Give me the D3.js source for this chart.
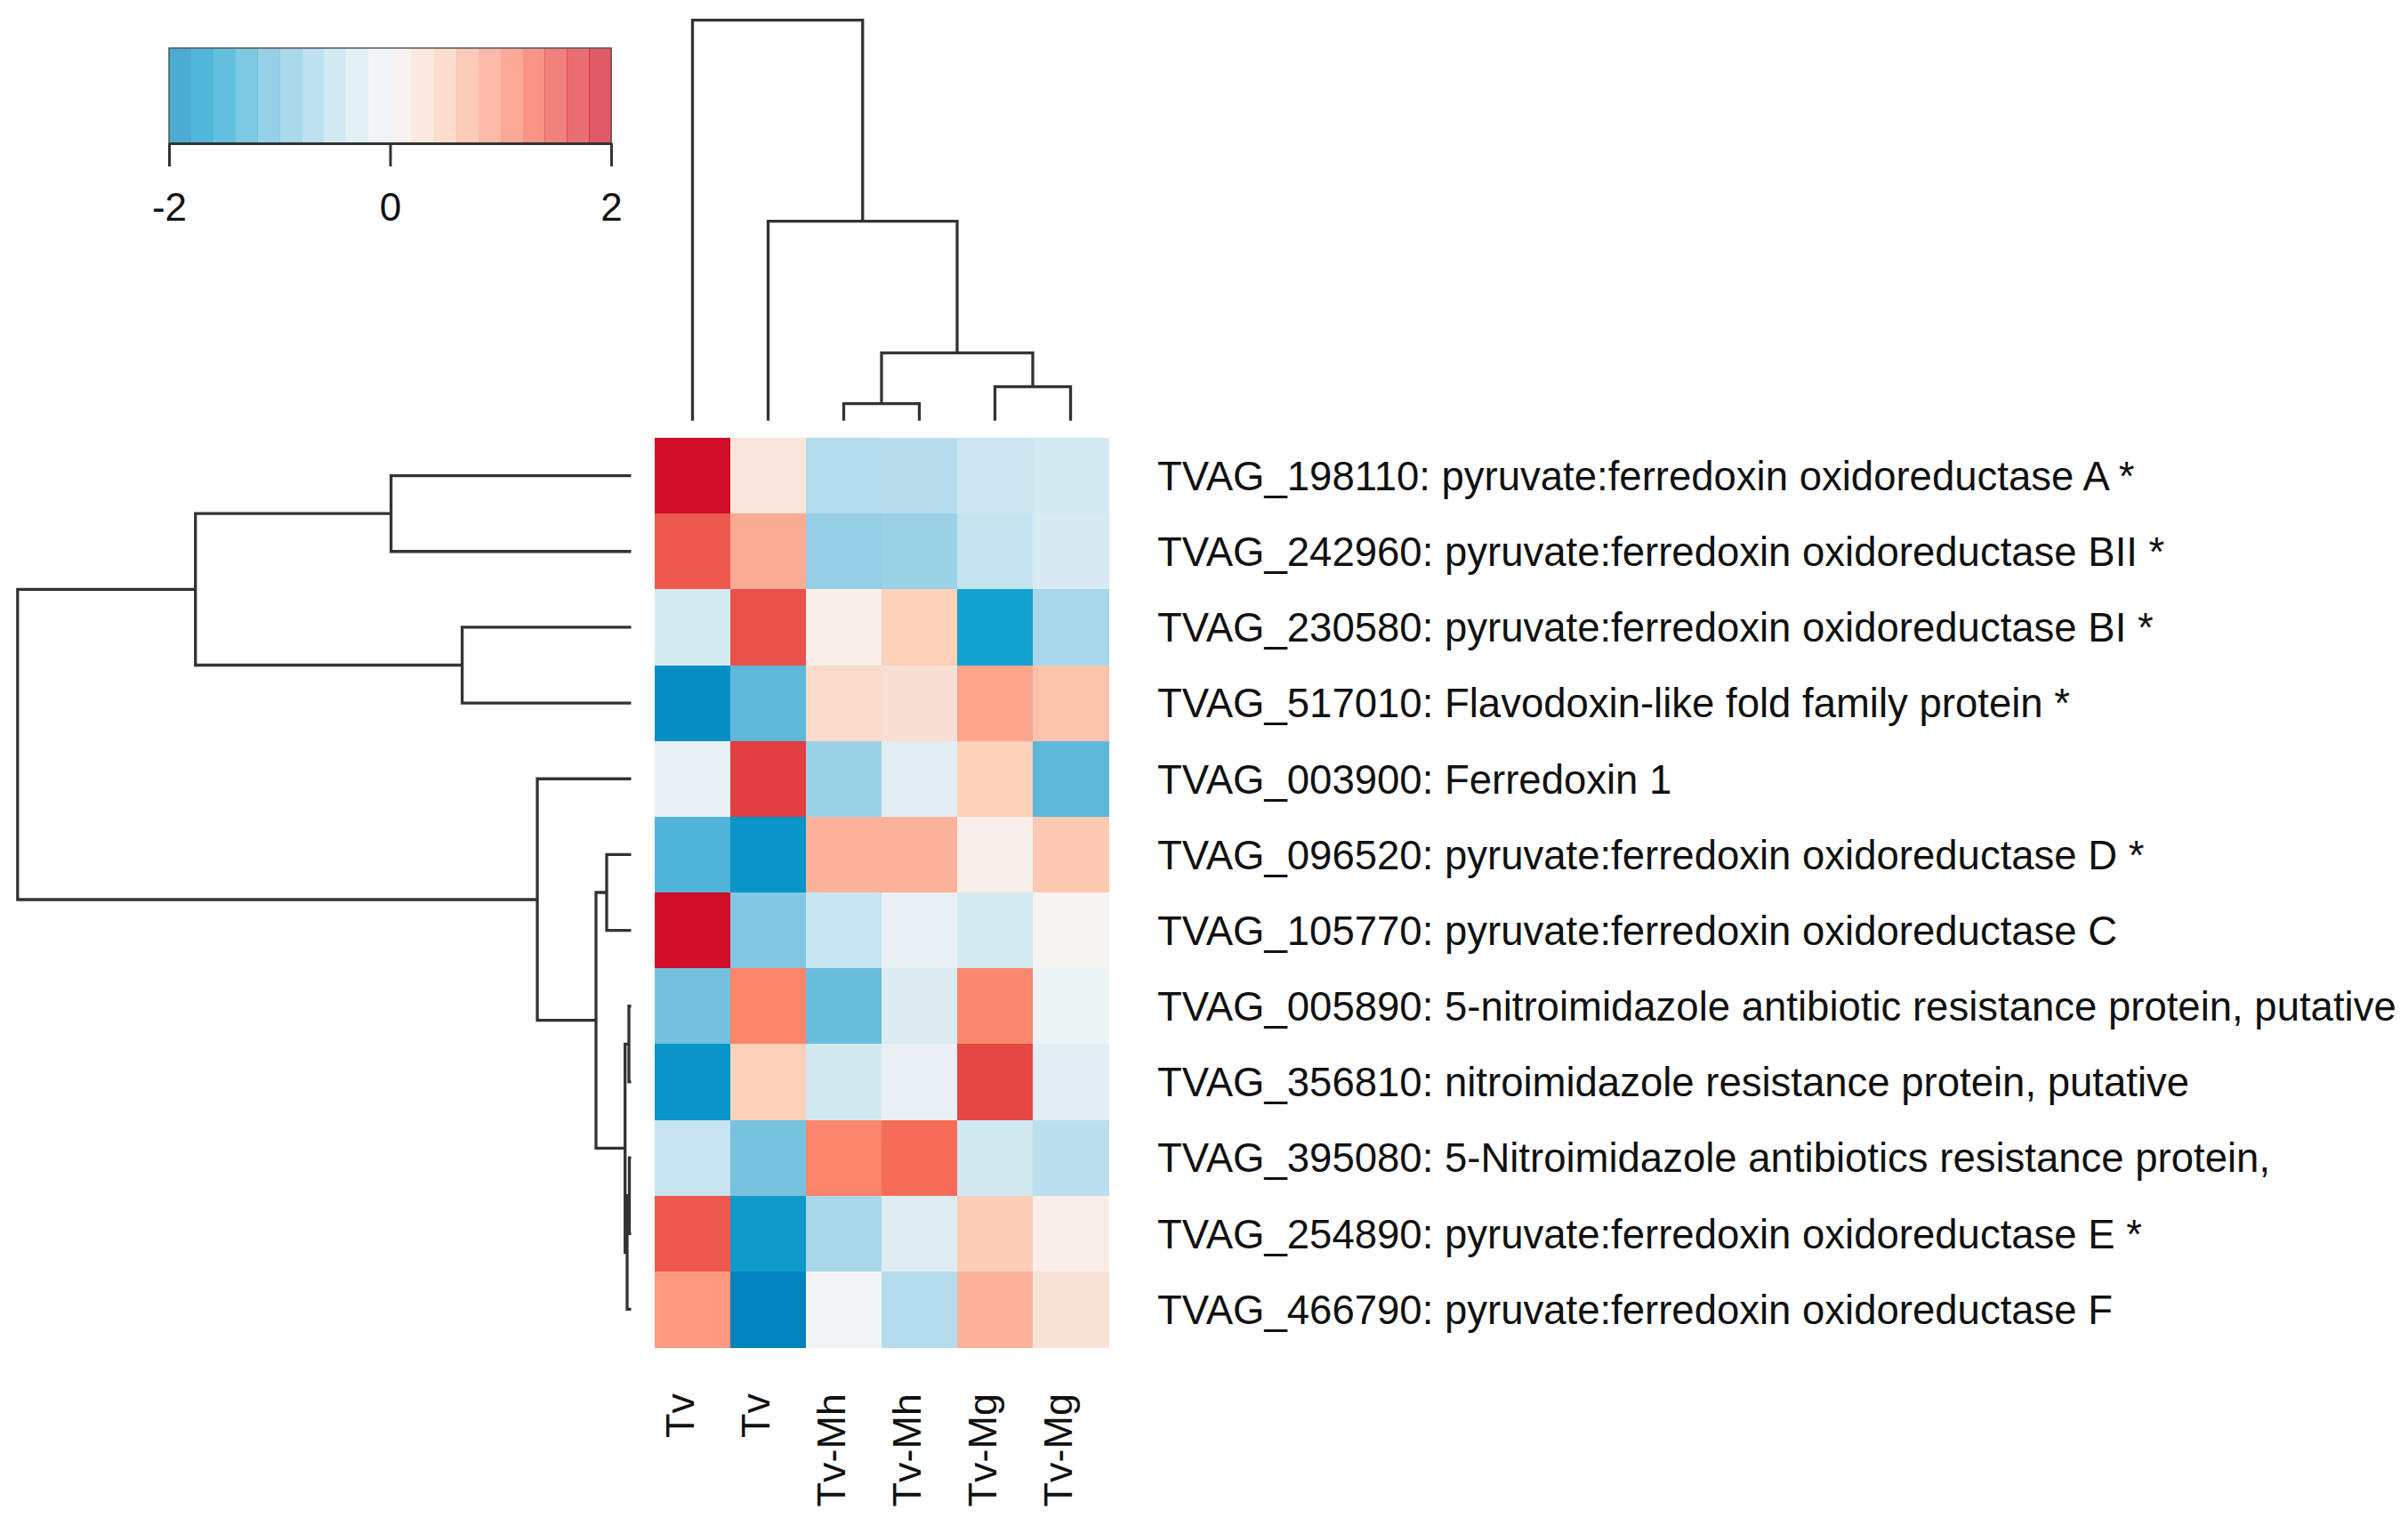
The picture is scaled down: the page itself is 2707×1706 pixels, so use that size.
<!DOCTYPE html>
<html>
<head>
<meta charset="utf-8">
<script src="https://cdn.jsdelivr.net/npm/d3@7"></script>
<style>
  body { margin: 0; background: #fff; }
  text { font-family: "Liberation Sans", Arial, sans-serif; fill: #111; }
</style>
</head>
<body>
<div id="chart"></div>
<script>
// rows, top to bottom as shown
const rowLabels = [
  'TVAG_198110: pyruvate:ferredoxin oxidoreductase A *',
  'TVAG_242960: pyruvate:ferredoxin oxidoreductase BII *',
  'TVAG_230580: pyruvate:ferredoxin oxidoreductase BI *',
  'TVAG_517010: Flavodoxin-like fold family protein *',
  'TVAG_003900: Ferredoxin 1',
  'TVAG_096520: pyruvate:ferredoxin oxidoreductase D *',
  'TVAG_105770: pyruvate:ferredoxin oxidoreductase C',
  'TVAG_005890: 5-nitroimidazole antibiotic resistance protein, putative',
  'TVAG_356810: nitroimidazole resistance protein, putative',
  'TVAG_395080: 5-Nitroimidazole antibiotics resistance protein,',
  'TVAG_254890: pyruvate:ferredoxin oxidoreductase E *',
  'TVAG_466790: pyruvate:ferredoxin oxidoreductase F'
];
const colLabels = ['Tv', 'Tv', 'Tv-Mh', 'Tv-Mh', 'Tv-Mg', 'Tv-Mg'];

// row z-scores
const values = [
  [ 2.00,  0.20, -0.60, -0.58, -0.40, -0.32],
  [ 1.45,  0.80, -0.82, -0.78, -0.48, -0.28],
  [-0.30,  1.50,  0.10,  0.50, -1.60, -0.68],
  [-1.85, -1.20,  0.35,  0.28,  0.85,  0.60],
  [-0.12,  1.65, -0.78, -0.20,  0.50, -1.20],
  [-1.28, -1.78,  0.75,  0.75,  0.10,  0.55],
  [ 2.00, -0.95, -0.45, -0.12, -0.30,  0.02],
  [-1.05,  1.12, -1.12, -0.25,  1.08, -0.08],
  [-1.78,  0.50, -0.35, -0.12,  1.58, -0.18],
  [-0.45, -1.03,  1.12,  1.30, -0.35, -0.55],
  [ 1.45, -1.70, -0.68, -0.22,  0.52,  0.10],
  [ 0.95, -1.98, -0.02, -0.60,  0.75,  0.25]
];

// hclust style merges: negative = leaf (1-based, display order), positive = earlier merge
const rowMerge = [[-8, -9], [-10, -11], [2, -12], [1, 3], [-6, -7], [5, 4], [-5, 6], [-1, -2], [-3, -4], [8, 9], [10, 7]];
const rowHeight = [0.025, 0.02, 0.045, 0.068, 0.275, 0.395, 1.055, 2.70, 1.90, 4.90, 6.90];
const colMerge = [[-3, -4], [-5, -6], [1, 2], [-2, 3], [-1, 4]];
const colHeight = [0.19, 0.38, 0.76, 2.24, 4.50];

const keyTicks = [-2, 0, 2];

const width = 2707;
const height = 1706;

const svg = d3.select('#chart').append('svg')
  .attr('width', width)
  .attr('height', height);

svg.append('rect').attr('width', width).attr('height', height).attr('fill', '#fff');

const color = d3.scaleLinear()
  .domain([-2, -1.6, -1.2, -0.5, 0, 0.5, 1.2, 2])
  .range(['#0082bc', '#12a2d0', '#5eb8da', '#c2e2ef', '#f5f5f5', '#fdd0ba', '#fb7a60', '#cf0e27'])
  .clamp(true);

const x = d3.scaleBand().domain(d3.range(colLabels.length)).range([736, 1246]);
const y = d3.scaleBand().domain(d3.range(rowLabels.length)).range([492, 1514]);

// heatmap
const cells = [];
values.forEach((row, i) => row.forEach((v, j) => cells.push({ i, j, v })));
svg.append('g')
  .selectAll('rect')
  .data(cells)
  .enter()
  .append('rect')
  .attr('x', d => x(d.j))
  .attr('y', d => y(d.i))
  .attr('width', x.bandwidth() + 0.5)
  .attr('height', y.bandwidth() + 0.5)
  .attr('fill', d => color(d.v))
  .attr('shape-rendering', 'crispEdges');

// row labels
svg.append('g')
  .selectAll('text')
  .data(rowLabels)
  .enter()
  .append('text')
  .attr('x', 1301)
  .attr('y', (d, i) => y(i) + y.bandwidth() / 2)
  .attr('dy', '0.36em')
  .style('font-size', '45.5px')
  .text(d => d);

// column labels
svg.append('g')
  .selectAll('text')
  .data(colLabels)
  .enter()
  .append('text')
  .attr('transform', (d, i) => `translate(${x(i) + x.bandwidth() / 2 + 1},1566) rotate(-90)`)
  .attr('text-anchor', 'end')
  .style('font-size', '45px')
  .text(d => d);

// dendrograms
function dendroPaths(merge, heights, leafPos) {
  const nodes = [];
  const paths = [];
  const get = k => (k < 0 ? { p: leafPos(-k - 1), h: 0 } : nodes[k - 1]);
  merge.forEach((m, idx) => {
    const a = get(m[0]);
    const b = get(m[1]);
    const h = heights[idx];
    nodes.push({ p: (a.p + b.p) / 2, h });
    paths.push({ a, b, h });
  });
  return paths;
}

const rowH = d3.scaleLinear().domain([0, 6.9]).range([709.5, 19.8]);
const colH = d3.scaleLinear().domain([0, 4.5]).range([472.7, 22.7]);

const rowLinks = dendroPaths(rowMerge, rowHeight, i => y(i) + y.bandwidth() / 2);
svg.append('g')
  .selectAll('path')
  .data(rowLinks)
  .enter()
  .append('path')
  .attr('d', d => `M${rowH(d.a.h)},${d.a.p}H${rowH(d.h)}V${d.b.p}H${rowH(d.b.h)}`)
  .style('fill', 'none')
  .style('stroke', '#333')
  .style('stroke-width', '3.3');

const colLinks = dendroPaths(colMerge, colHeight, j => x(j) + x.bandwidth() / 2);
svg.append('g')
  .selectAll('path')
  .data(colLinks)
  .enter()
  .append('path')
  .attr('d', d => `M${d.a.p},${colH(d.a.h)}V${colH(d.h)}H${d.b.p}V${colH(d.b.h)}`)
  .style('fill', 'none')
  .style('stroke', '#333')
  .style('stroke-width', '3.3');

// colour key
const key = d3.scaleLinear().domain([-2, 2]).range([190, 687]);
const steps = d3.range(-2, 2, 0.2);
const keyG = svg.append('g');
keyG.selectAll('rect')
  .data(steps)
  .enter()
  .append('rect')
  .attr('x', d => key(d))
  .attr('y', 54)
  .attr('width', key(0.2) - key(0) + 0.5)
  .attr('height', 107)
  .attr('fill', d => color(d + 0.1))
  .attr('fill-opacity', 0.72)
  .attr('shape-rendering', 'crispEdges');
keyG.append('rect')
  .attr('x', 190)
  .attr('y', 54)
  .attr('width', 497)
  .attr('height', 107)
  .style('fill', 'none')
  .style('stroke', '#555')
  .style('stroke-width', '1.5');

const axis = d3.axisBottom(key).tickValues(keyTicks).tickSize(26).tickSizeOuter(0).tickPadding(30)
  .tickFormat(d => (d < 0 ? '-' + Math.abs(d) : d));
const axG = svg.append('g')
  .attr('transform', 'translate(0,161)')
  .call(axis);
axG.select('.domain').style('stroke', '#333').style('stroke-width', '3');
axG.selectAll('.tick line').style('stroke', '#333').style('stroke-width', '3');
axG.selectAll('.tick text')
  .style('font-size', '44px')
  .style('font-family', '"Liberation Sans", Arial, sans-serif')
  .style('fill', '#111');
</script>
</body>
</html>
